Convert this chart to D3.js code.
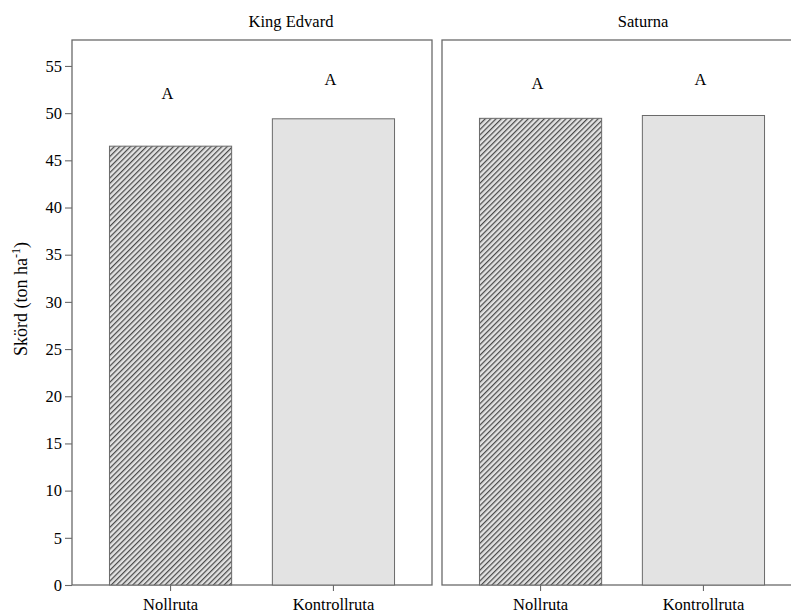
<!DOCTYPE html>
<html>
<head>
<meta charset="utf-8">
<script src="https://cdn.jsdelivr.net/npm/d3@7"></script>
<style>
  html, body { margin: 0; padding: 0; background: #fff; }
  svg { display: block; }
  svg text { font-family: "Liberation Serif", "Times New Roman", "DejaVu Serif", serif !important; fill: #000; }
</style>
</head>
<body>
<svg id="chart" width="791" height="613"></svg>
<script>
// Yield per variety and plot type
const varieties = ["King Edvard", "Saturna"];
const plots = ["Nollruta", "Kontrollruta"];
const yieldKingEdvard = [46.5, 49.4];
const yieldSaturna = [49.45, 49.75];
// Significance letters and the height (ton/ha) they sit at
const lettersKingEdvard = ["A", "A"];
const lettersSaturna = ["A", "A"];
const letterLevelKingEdvard = [51.5, 53.0];
const letterLevelSaturna = [52.6, 53.0];
const yTicks = [0, 5, 10, 15, 20, 25, 30, 35, 40, 45, 50, 55];

const panelsData = [
  { name: varieties[0], values: yieldKingEdvard, letters: lettersKingEdvard, levels: letterLevelKingEdvard },
  { name: varieties[1], values: yieldSaturna, letters: lettersSaturna, levels: letterLevelSaturna }
];

const svg = d3.select("#chart");
const plotTop = 40, plotBottom = 585, plotLeft = 72, panelW = 360, gap = 10;
const axisColor = "#6a6a6a";
const fontSize = 16.5;

const y = d3.scaleLinear().domain([0, 57.75]).range([plotBottom, plotTop]);
const x = d3.scaleBand().domain(plots).range([0, panelW]).paddingInner(0.25).paddingOuter(0.23);

// Diagonal hatch for the Nollruta bars
const defs = svg.append("defs");
const pat = defs.append("pattern")
  .attr("id", "hatch")
  .attr("patternUnits", "userSpaceOnUse")
  .attr("width", 3.8).attr("height", 3.8)
  .attr("patternTransform", "rotate(45)");
pat.append("rect").attr("width", 3.8).attr("height", 3.8).attr("fill", "#e2e2e2");
pat.append("line").attr("x1", 0.6).attr("y1", 0).attr("x2", 0.6).attr("y2", 3.8)
  .attr("stroke", "#4a4a4a").attr("stroke-width", 1.25);

const titleOffsets = [219, 201];

panelsData.forEach((p, i) => {
  const x0 = plotLeft + i * (panelW + gap);
  const g = svg.append("g").attr("transform", `translate(${x0},0)`);

  // panel frame
  g.append("rect")
    .attr("x", 0).attr("y", plotTop)
    .attr("width", panelW).attr("height", plotBottom - plotTop)
    .attr("fill", "none").attr("stroke", axisColor).attr("stroke-width", 1.3);

  // bars
  g.selectAll("rect.bar").data(p.values).join("rect")
    .attr("class", "bar")
    .attr("x", (d, j) => x(plots[j]))
    .attr("y", d => y(d))
    .attr("width", x.bandwidth())
    .attr("height", d => y(0) - y(d))
    .attr("fill", (d, j) => j === 0 ? "url(#hatch)" : "#e3e3e3")
    .attr("stroke", "#6a6a6a").attr("stroke-width", 1);

  // significance letters
  g.selectAll("text.letter").data(p.letters).join("text")
    .attr("class", "letter")
    .attr("x", (d, j) => x(plots[j]) + x.bandwidth() / 2 - 3)
    .attr("y", (d, j) => y(p.levels[j]))
    .attr("text-anchor", "middle")
    .attr("font-size", fontSize)
    .text(d => d);

  // x axis
  const xa = g.append("g").attr("transform", `translate(0,${plotBottom})`)
    .call(d3.axisBottom(x).tickSize(6).tickPadding(7));
  xa.attr("font-size", fontSize);
  xa.select(".domain").remove();
  xa.selectAll("line").attr("stroke", axisColor).attr("stroke-width", 1.1);

  // panel title
  g.append("text")
    .attr("x", titleOffsets[i])
    .attr("y", 27)
    .attr("text-anchor", "middle")
    .attr("font-size", fontSize)
    .text(p.name);
});

// y axis on the left panel
const ya = svg.append("g").attr("transform", `translate(${plotLeft},0)`)
  .call(d3.axisLeft(y).tickValues(yTicks).tickSize(7).tickPadding(3));
ya.attr("font-size", fontSize);
ya.select(".domain").remove();
ya.selectAll("line").attr("stroke", axisColor).attr("stroke-width", 1.1);

// y axis title
const yt = svg.append("text")
  .attr("transform", `translate(27,299) rotate(-90)`)
  .attr("text-anchor", "middle")
  .attr("font-size", 18);
yt.append("tspan").text("Skörd (ton ha");
yt.append("tspan").attr("dy", -7).attr("font-size", 12).text("-1");
yt.append("tspan").attr("dy", 7).text(")");
</script>
</body>
</html>
